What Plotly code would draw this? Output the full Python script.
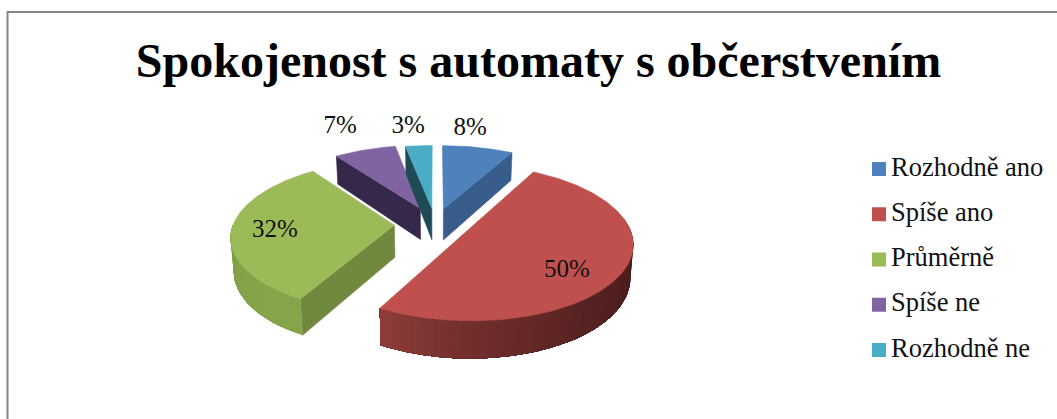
import math
import plotly.graph_objects as go

# Survey answers and their shares in percent
categories = ["Rozhodně ano", "Spíše ano", "Průměrně", "Spíše ne", "Rozhodně ne"]
shares = [8, 50, 32, 7, 3]
title_text = "Spokojenost s automaty s občerstvením"

top_colors = ["#4F81BD", "#C0504D", "#9BBB59", "#8064A2", "#4BACC6"]
cut_colors = ["#385D8A", "#8C3836", "#71893F", "#35284A", "#1F4B57"]
# Rim shading: colour at the start and at the end of the visible arc (clockwise)
rim_shades = [
    ("#385D8A", "#385D8A"),
    ("#4A1C1C", "#8E3C3A"),
    ("#86A54A", "#7E9C45"),
    ("#35284A", "#35284A"),
    ("#1F4B57", "#1F4B57"),
]
# Data label placement as clock angle (degrees) and radius on the disk plane
label_angles = [9.4, 126.7, 266, 336.3, 352.9]
label_radii = [1.575, 0.915, 0.957, 1.74, 1.605]

# Projection of the tilted disk onto the plot
CX, CY = 435.0, 224.0
RX, RY = 166.0, 76.0
PERSPECTIVE = 0.14
DEPTH = 32.0
BOTTOM_SHRINK = 0.985
LABEL_DROP = 1.5
DRAW_ORDER = [3, 4, 0, 2, 1]
# Per-slice pull-out distance and radius
slice_explode = [0.21, 0.21, 0.245, 0.23, 0.21]
slice_radius = [1.0, 0.98, 0.97, 1.0, 1.0]

# Legend column
LEGEND_SWATCH_X = 879.0
LEGEND_TEXT_X = 891.0
LEGEND_TOP_Y = 169.0
LEGEND_STEP = 45.25


def project(x, y, lower=False):
    s = 1.0 / (1.0 - PERSPECTIVE * y)
    px = x * RX * s
    py = CY + y * RY * s
    if lower:
        return CX + px * BOTTOM_SHRINK, py + DEPTH * s
    return CX + px, py


def clock(a):
    r = math.radians(a)
    return math.sin(r), -math.cos(r)


def hex_mix(c0, c1, t):
    a = [int(c0[i:i + 2], 16) for i in (1, 3, 5)]
    b = [int(c1[i:i + 2], 16) for i in (1, 3, 5)]
    return "#%02X%02X%02X" % tuple(round(p + (q - p) * t) for p, q in zip(a, b))


def polygon(points, color, outline=0.6):
    xs = [p[0] for p in points] + [points[0][0]]
    ys = [p[1] for p in points] + [points[0][1]]
    return go.Scatter(
        x=xs, y=ys, mode="lines", fill="toself", fillcolor=color,
        line=dict(color=color, width=outline), hoverinfo="skip", showlegend=False,
    )


fig = go.Figure()

total = sum(shares)
edges = [0.0]
for v in shares:
    edges.append(edges[-1] + 360.0 * v / total)

for i in DRAW_ORDER:
    a0, a1 = edges[i], edges[i + 1]
    ox, oy = clock((a0 + a1) / 2)
    ox, oy = ox * slice_explode[i], oy * slice_explode[i]
    radius = slice_radius[i]

    def rim(a):
        ux, uy = clock(a)
        return ox + ux * radius, oy + uy * radius

    # Cut faces turned towards the viewer
    for a, visible in ((a0, math.sin(math.radians(a0)) < -1e-6),
                       (a1, math.sin(math.radians(a1)) > 1e-6)):
        if visible:
            rx, ry = rim(a)
            fig.add_trace(polygon(
                [project(ox, oy), project(rx, ry),
                 project(rx, ry, True), project(ox, oy, True)],
                cut_colors[i]))

    # Outer wall: each strip reaches to the end of the arc and the next one
    # paints over it, so no seams show between the shades
    lo, hi = max(a0, 80.0), min(a1, 270.0)
    if hi > lo:
        n = max(2, int(hi - lo) // 2)
        for k in range(n):
            b0 = lo + (hi - lo) * k / n
            arc_angles = [b0 + (hi - b0) * j / (n - k) for j in range(n - k + 1)]
            upper = [project(*rim(b)) for b in arc_angles]
            lower = [project(*rim(b), True) for b in reversed(arc_angles)]
            color = hex_mix(rim_shades[i][0], rim_shades[i][1], (k / (n - 1)) ** 2.2)
            fig.add_trace(polygon(upper + lower, color, outline=0))

    # Top face
    steps = max(4, int(a1 - a0))
    arc = [project(*rim(a0 + (a1 - a0) * k / steps)) for k in range(steps + 1)]
    fig.add_trace(polygon([project(ox, oy)] + arc, top_colors[i]))

# Percentage labels
lx, ly, ltext = [], [], []
for v, a, r in zip(shares, label_angles, label_radii):
    ux, uy = clock(a)
    px, py = project(ux * r, uy * r)
    lx.append(px)
    ly.append(py + LABEL_DROP)
    ltext.append(f"{v}%")
fig.add_trace(go.Scatter(
    x=lx, y=ly, text=ltext, mode="text", textposition="middle center",
    textfont=dict(family="Liberation Serif", size=25, color="#111111"),
    hoverinfo="skip", showlegend=False,
))

# Legend column: swatches and their captions
legend_y = [LEGEND_TOP_Y + LEGEND_STEP * k for k in range(len(categories))]
fig.add_trace(go.Scatter(
    x=[LEGEND_SWATCH_X] * len(categories), y=legend_y, mode="markers",
    marker=dict(symbol="square", size=14, color=top_colors),
    hoverinfo="skip", showlegend=False,
))
fig.add_trace(go.Scatter(
    x=[LEGEND_TEXT_X] * len(categories), y=legend_y, text=categories, mode="text",
    textposition="middle right",
    textfont=dict(family="Liberation Serif", size=26.5, color="#111111"),
    hoverinfo="skip", showlegend=False,
))

fig.update_layout(
    width=1057, height=419, autosize=False,
    margin=dict(l=0, r=0, t=0, b=0),
    paper_bgcolor="white", plot_bgcolor="white",
    showlegend=False,
    title=dict(
        text=f"<b>{title_text}</b>", x=538.5 / 1057, y=1 - 60 / 419,
        xanchor="center", yanchor="middle", xref="paper", yref="container",
        font=dict(family="Liberation Serif", size=48, color="#000000"),
    ),
    xaxis=dict(range=[0, 1057], visible=False, fixedrange=True),
    yaxis=dict(range=[419, 0], visible=False, fixedrange=True),
    shapes=[dict(type="rect", xref="x", yref="y", x0=7.5, y0=12, x1=1070, y1=440,
                 line=dict(color="#868686", width=2), layer="below")],
)

fig.write_html("out.html")
